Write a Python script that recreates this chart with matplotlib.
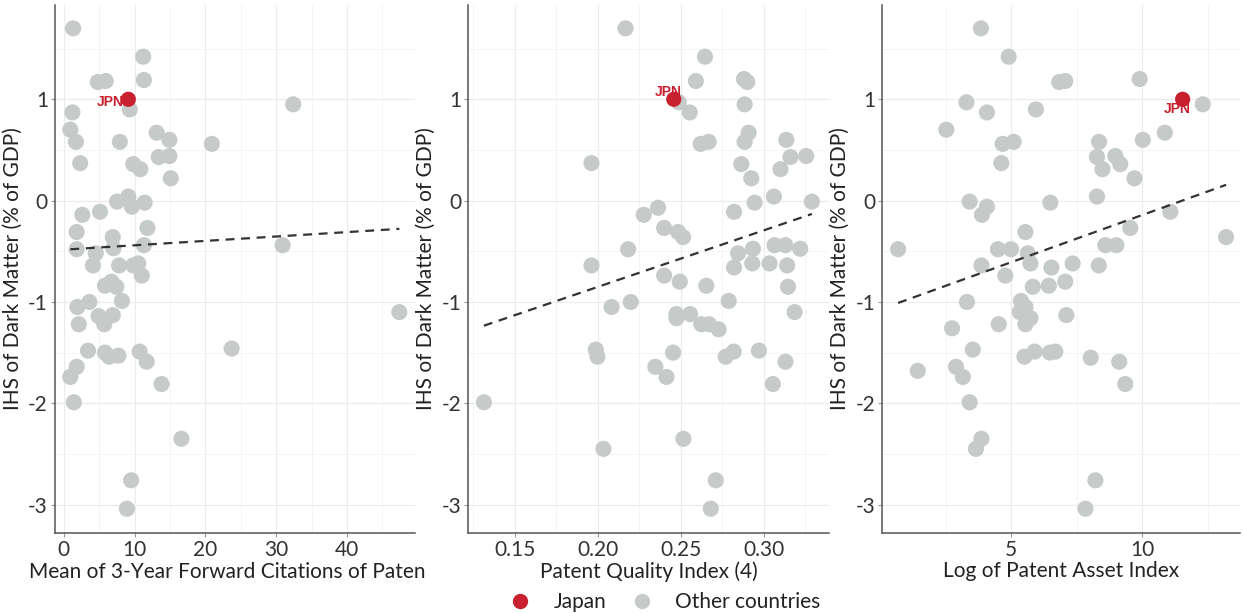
import numpy as np
import matplotlib
matplotlib.use("Agg")
import matplotlib.pyplot as plt
from matplotlib.lines import Line2D

plt.rcParams['font.family'] = ['Lato', 'DejaVu Sans']

# --- data ---
# panel 1: mean of 3-year forward citations
cit_x = [1.3, 11.2, 4.8, 5.9, 11.3, 9.3, 32.4, 1.2, 0.9, 1.7, 7.9, 13.1, 14.9, 20.9,
         2.3, 9.8, 10.8, 13.4, 14.9, 15.1, 9.1, 7.5, 11.4, 9.6, 2.6, 5.1, 1.8, 11.8,
         6.9, 7.0, 1.8, 11.3, 4.5, 30.9, 4.1, 7.8, 9.8, 10.5, 11.0, 5.8, 6.7, 7.4,
         1.9, 3.6, 8.2, 4.9, 5.7, 6.9, 2.1, 47.4, 3.4, 5.8, 6.4, 7.7, 10.7, 11.7,
         23.7, 1.8, 0.9, 13.8, 1.4, 16.6, 9.5, 8.9]
cit_y = [1.70, 1.42, 1.17, 1.18, 1.19, 0.90, 0.95, 0.87, 0.70, 0.58, 0.58, 0.67, 0.60, 0.56,
         0.37, 0.36, 0.31, 0.43, 0.44, 0.22, 0.04, -0.01, -0.02, -0.06, -0.14, -0.11, -0.31, -0.27,
         -0.36, -0.47, -0.48, -0.44, -0.52, -0.44, -0.64, -0.64, -0.64, -0.62, -0.74, -0.84, -0.80, -0.85,
         -1.05, -1.00, -0.99, -1.14, -1.22, -1.13, -1.22, -1.10, -1.48, -1.50, -1.54, -1.53, -1.49, -1.59,
         -1.46, -1.64, -1.74, -1.81, -1.99, -2.35, -2.76, -3.04]

# panel 2: patent quality index (4)
qual_x = [0.2166, 0.2645, 0.259, 0.288, 0.290, 0.2487, 0.2553, 0.2884, 0.2908, 0.2884,
          0.2619, 0.2667, 0.3135, 0.1961, 0.2864, 0.2924, 0.310, 0.316, 0.3255, 0.306,
          0.2944, 0.3289, 0.282, 0.2362, 0.2276, 0.2399, 0.2483, 0.2513, 0.2182, 0.2844,
          0.2934, 0.3064, 0.3129, 0.3219, 0.1961, 0.282, 0.293, 0.3034, 0.314, 0.2399,
          0.2493, 0.2653, 0.3145, 0.2082, 0.2198, 0.2788, 0.2473, 0.2473, 0.2555, 0.2623,
          0.2669, 0.2727, 0.3185, 0.1987, 0.1997, 0.2453, 0.2346, 0.2413, 0.2770, 0.2818,
          0.297, 0.313, 0.3054, 0.1313, 0.2033, 0.2515, 0.271, 0.268]
qual_y = [1.70, 1.42, 1.18, 1.20, 1.17, 0.97, 0.87, 0.95, 0.67, 0.58,
          0.56, 0.58, 0.60, 0.37, 0.36, 0.22, 0.31, 0.43, 0.44, 0.04,
          -0.02, -0.01, -0.11, -0.07, -0.14, -0.27, -0.31, -0.36, -0.48, -0.52,
          -0.475, -0.44, -0.44, -0.475, -0.64, -0.66, -0.62, -0.62, -0.64, -0.74,
          -0.80, -0.84, -0.85, -1.05, -1.00, -0.99, -1.12, -1.16, -1.12, -1.22,
          -1.22, -1.27, -1.10, -1.47, -1.54, -1.50, -1.64, -1.74, -1.54, -1.49,
          -1.48, -1.59, -1.81, -1.99, -2.45, -2.35, -2.76, -3.04]

# panel 3: log of patent asset index
asset_x = [3.85, 4.91, 6.84, 7.07, 9.91, 12.32, 3.30, 4.08, 5.95, 2.53, 4.68, 5.10, 4.63,
           8.36, 8.28, 8.98, 8.49, 9.17, 9.71, 10.03, 10.87, 8.28, 6.50, 11.08, 3.42, 3.89,
           4.08, 5.55, 9.55, 13.21, 0.69, 4.50, 5.00, 5.64, 8.60, 9.02, 3.87, 5.74, 6.54,
           7.35, 8.35, 4.78, 5.83, 6.44, 7.07, 3.32, 5.38, 5.55, 5.33, 5.74, 5.55, 7.11,
           2.75, 4.53, 3.54, 5.51, 5.90, 6.48, 6.69, 8.04, 9.13, 9.36, 1.44, 2.90, 3.16,
           3.42, 3.87, 3.66, 8.22, 7.84]
asset_y = [1.70, 1.42, 1.17, 1.18, 1.20, 0.95, 0.97, 0.87, 0.90, 0.70, 0.56, 0.58, 0.37,
           0.58, 0.43, 0.44, 0.31, 0.36, 0.22, 0.60, 0.67, 0.04, -0.02, -0.11, -0.01, -0.14,
           -0.06, -0.31, -0.27, -0.36, -0.48, -0.48, -0.48, -0.52, -0.44, -0.44, -0.64, -0.62, -0.66,
           -0.62, -0.64, -0.74, -0.85, -0.84, -0.80, -1.00, -0.99, -1.05, -1.10, -1.16, -1.22, -1.13,
           -1.26, -1.22, -1.47, -1.54, -1.49, -1.50, -1.49, -1.55, -1.59, -1.81, -1.68, -1.64, -1.74,
           -1.99, -2.35, -2.45, -2.76, -3.04]

# Japan
jpn_x = [9.1, 0.2457, 11.55]
jpn_y = 1.0

# fitted lines (intercept, slope)
fits = [(-0.484, 0.00433), (-1.967, 5.58), (-1.074, 0.0931)]

xlabels = ["Mean of 3-Year Forward Citations of Paten", "Patent Quality Index (4)",
           "Log of Patent Asset Index"]
ylabel = "IHS of Dark Matter (% of GDP)"

red = '#C8202F'
grey = '#C6CAC8'

fig = plt.figure(figsize=(12.43, 6.13), dpi=100)
lefts = [0.0442, 0.3765, 0.7096]
widths = [0.2896, 0.2904, 0.2880]
xlims = [(-1.27, 49.6), (0.1217, 0.3392), (0.076, 13.74)]
xmajor = [[0, 10, 20, 30, 40], [0.15, 0.20, 0.25, 0.30], [5, 10]]
xminor = [[5, 15, 25, 35, 45], [0.125, 0.175, 0.225, 0.275, 0.325], [2.5, 7.5, 12.5]]
xfmt = ['{:.0f}', '{:.2f}', '{:.0f}']
lab_pos = [(6.6, 0.97), (0.2422, 1.076), (11.34, 0.908)]

datasets = [(cit_x, cit_y), (qual_x, qual_y), (asset_x, asset_y)]

for i in range(3):
    ax = fig.add_axes([lefts[i], 0.1305, widths[i], 0.8613])
    xs, ys = datasets[i]
    ax.scatter(xs, ys, s=135, color=grey, edgecolor='none', zorder=3)
    ax.scatter([jpn_x[i]], [jpn_y], s=120, color=red, edgecolor='none', zorder=4)
    ax.text(lab_pos[i][0], lab_pos[i][1], "JPN", color=red, fontsize=10,
            fontweight='bold', family='Liberation Sans', ha='center', va='center', zorder=5)
    allx = list(xs) + [jpn_x[i]]
    xx = np.array([min(allx), max(allx)])
    b0, b1 = fits[i]
    ax.plot(xx, b0 + b1 * xx, color='#333333', lw=1.6, ls=(0, (4, 3)), zorder=6)

    ax.set_xlim(xlims[i])
    ax.set_ylim(-3.28, 1.93)
    ax.set_xticks(xmajor[i])
    ax.set_xticklabels([xfmt[i].format(v) for v in xmajor[i]])
    ax.set_xticks(xminor[i], minor=True)
    ax.set_yticks([-3, -2, -1, 0, 1])
    ax.set_yticklabels(['-3', '-2', '-1', '0', '1'])
    ax.set_yticks([-2.5, -1.5, -0.5, 0.5, 1.5], minor=True)
    ax.grid(True, which='major', color='#EBEBEB', lw=0.8)
    ax.grid(True, which='minor', color='#F3F3F3', lw=0.6)
    ax.set_axisbelow(True)
    for s in ['top', 'right']:
        ax.spines[s].set_visible(False)
    for s in ['left', 'bottom']:
        ax.spines[s].set_color('#555555')
        ax.spines[s].set_linewidth(1.1)
    ax.tick_params(which='major', length=3, color='#999999', labelsize=15,
                   labelcolor='#333333', pad=2)
    ax.tick_params(which='minor', length=0)
    ax.set_xlabel(xlabels[i], fontsize=15, color='#222222', labelpad=1)
    ax.set_ylabel(ylabel, fontsize=15, color='#222222', labelpad=4)
    if i == 0:
        ax.xaxis.set_label_coords(0.48, -0.055)

handles = [Line2D([], [], marker='o', ls='none', color=red, markersize=10, label='Japan'),
           Line2D([], [], marker='o', ls='none', color=grey, markersize=10, label='Other countries')]
fig.legend(handles=handles, loc='center', bbox_to_anchor=(0.535, 0.018), ncol=2,
           frameon=False, fontsize=15, handlelength=1.0, handletextpad=1.1,
           columnspacing=1.2, labelcolor='#222222')

fig.savefig('out.png', dpi=100)
